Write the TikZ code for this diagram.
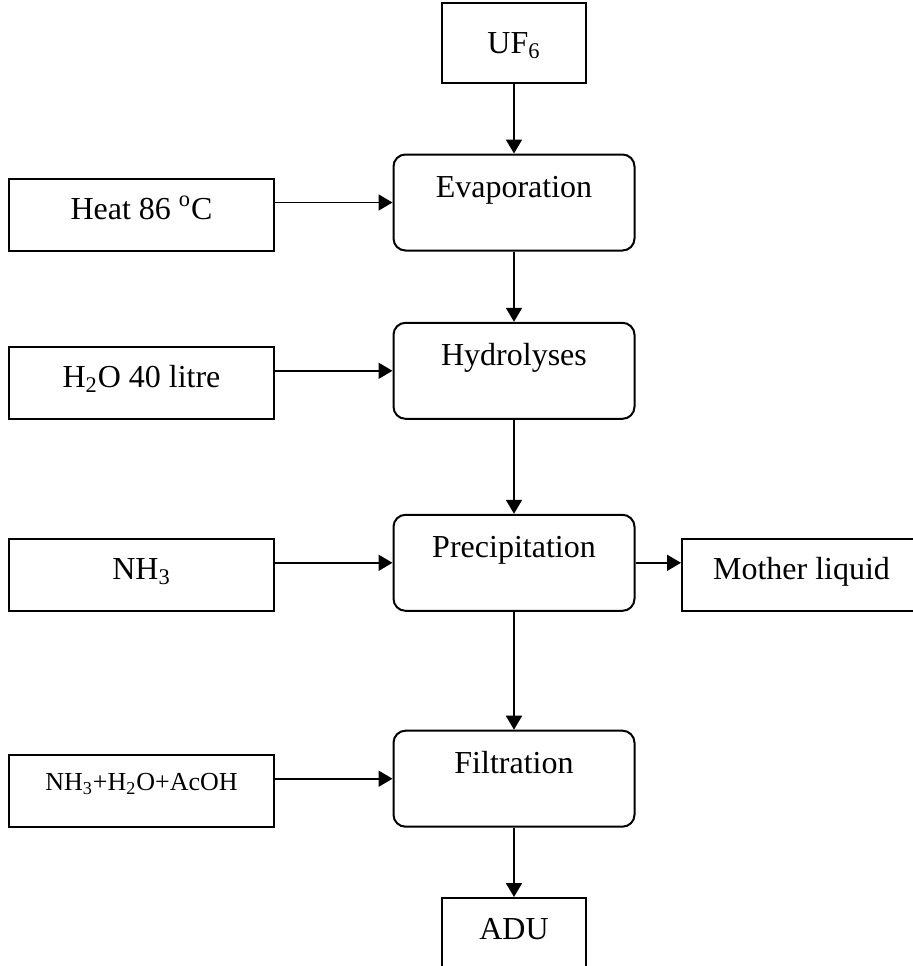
\documentclass[tikz,border=0pt]{standalone}
\usepackage{fontspec}
\setmainfont{Liberation Serif}
\usetikzlibrary{arrows.meta}

\begin{document}
\begin{tikzpicture}[x=0.5pt,y=-0.5pt,
        % 左侧原料结点
        FeedNode/.style={rectangle,draw=black,line width=1pt,inner sep=0pt,minimum width=132.5pt,
            text height=20.5pt,text depth=15.5pt,font=\fontsize{16}{19}\selectfont},
        % 中间工序结点(圆角)
        StepNode/.style={rectangle,rounded corners=6pt,draw=black,line width=1pt,inner sep=0pt,minimum width=120.5pt,
            text height=21.5pt,text depth=26.5pt,font=\fontsize{16}{19}\selectfont},
        % 起点与终点结点
        EndNode/.style={rectangle,draw=black,line width=1pt,inner sep=0pt,minimum width=72pt,
            font=\fontsize{16}{19}\selectfont},
        Flow/.style={line width=0.9pt,-{Triangle[length=7pt,width=8pt]}}]

        % 画布范围
        \clip (0,0) rectangle (913,966);

        % 起点
        \node[EndNode,text height=25pt,text depth=15pt] (uf) at (514,43) {UF\textsubscript{6}};

        % 工序结点
        \node[StepNode] (evap) at (514,202.5) {Evaporation};
        \node[StepNode] (hydro) at (514,370.8) {Hydrolyses};
        \node[StepNode] (precip) at (514,562.8) {Precipitation};
        \node[StepNode] (filt) at (514,778.7) {Filtration};

        % 原料结点
        \node[FeedNode] (heat) at (141.5,214.5) {Heat 86 \textsuperscript{o}C};
        \node[FeedNode] (water) at (141.5,382.6) {H\textsubscript{2}O 40 litre};
        \node[FeedNode] (ammonia) at (141.5,574.8) {NH\textsubscript{3}};
        \node[FeedNode,text height=18pt,text depth=18pt,font=\fontsize{13}{16}\selectfont] (wash) at (141.5,790.8)
            {NH\textsubscript{3}+H\textsubscript{2}O+AcOH};

        % 母液与产品
        \node[FeedNode,minimum width=119.5pt] (mother) at (801.5,574.8) {Mother liquid};
        \node[EndNode,text height=20.5pt,text depth=19.5pt] (adu) at (514,938) {ADU};

        % 主流程竖直箭头
        \draw[Flow] (uf) -- (evap);
        \draw[Flow] (evap) -- (hydro);
        \draw[Flow] (hydro) -- (precip);
        \draw[Flow] (precip) -- (filt);
        \draw[Flow] (filt) -- (adu);

        % 原料到工序的水平箭头
        \foreach \a/\b in {heat/evap,water/hydro,ammonia/precip,wash/filt}
            \draw[Flow] (\b.west -| \a.east) -- (\b.west);

        % 母液
        \draw[Flow] (precip.east) -- (precip.east -| mother.west);
\end{tikzpicture}
\end{document}
